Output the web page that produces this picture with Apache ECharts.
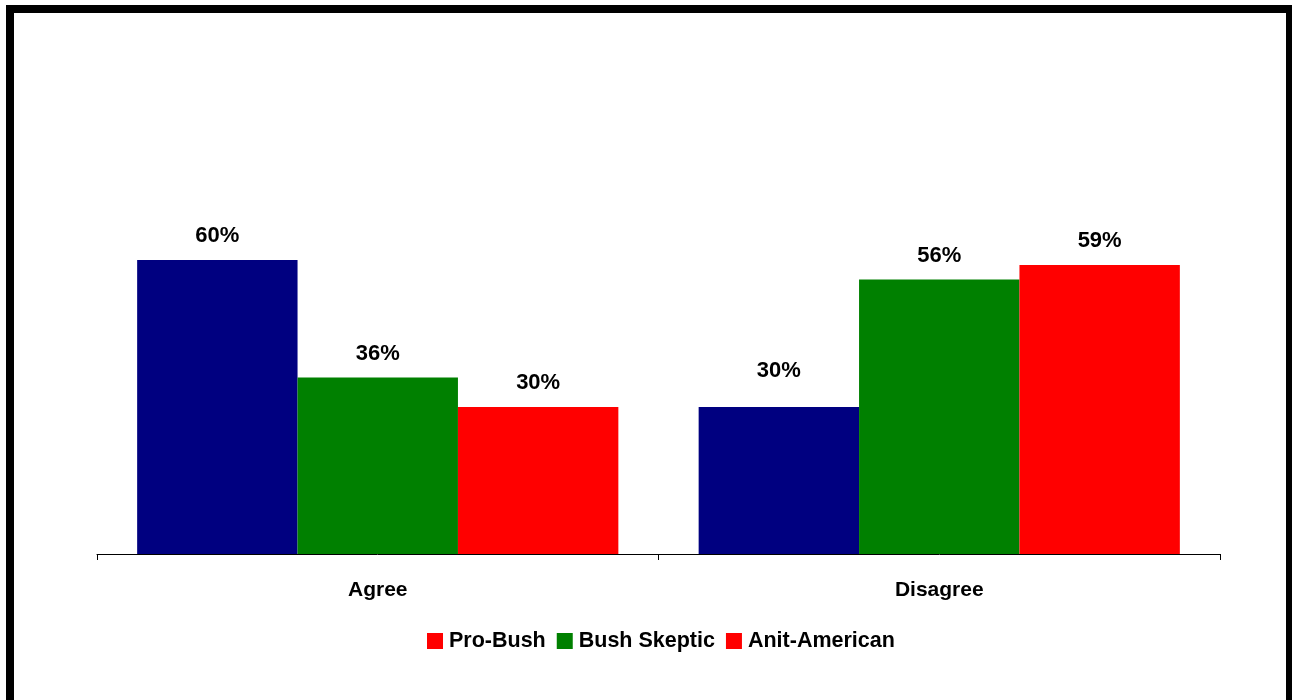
<!DOCTYPE html>
<html>
<head>
<meta charset="utf-8">
<script src="https://cdn.jsdelivr.net/npm/echarts@6/dist/echarts.min.js"></script>
<style>
html,body{margin:0;padding:0;background:#fff;}
#chart{width:1292px;height:700px;}
</style>
</head>
<body>
<div id="chart"></div>
<script>
const categories = ['Agree', 'Disagree'];
const seriesNames = ['Pro-Bush', 'Bush Skeptic', 'Anit-American'];
const proBush = [60, 30];
const bushSkeptic = [36, 56];
const anitAmerican = [30, 59];

const barColors = ['#000080', '#008000', '#FF0000'];
const legendColors = ['#FF0000', '#008000', '#FF0000'];
const FONT = '"Liberation Sans", Arial, sans-serif';

const chart = echarts.init(document.getElementById('chart'));

function makeSeries(name, values, color, idx) {
  return {
    name: name,
    type: 'bar',
    barGap: '0%',
    barCategoryGap: '14.3%',
    itemStyle: { color: color },
    label: {
      show: true,
      position: 'top',
      distance: 13,
      formatter: '{c}%',
      color: '#000',
      fontFamily: FONT,
      fontWeight: 'bold',
      fontSize: 22
    },
    data: values.map(function (v, i) {
      if (idx === 0 && i === 1) {
        return { value: v, label: { distance: 25 } };
      }
      return v;
    })
  };
}

chart.setOption({
  animation: false,
  backgroundColor: '#fff',
  graphic: [{
    type: 'rect',
    shape: { x: 10, y: 9, width: 1280, height: 720 },
    style: { fill: 'none', stroke: '#000', lineWidth: 8 },
    silent: true
  }],
  legend: {
    left: 422,
    top: 625,
    itemWidth: 16,
    itemHeight: 16,
    itemGap: 11,
    icon: 'rect',
    textStyle: { fontFamily: FONT, fontWeight: 'bold', fontSize: 21.5, color: '#000', padding: [0, 0, 0, 1] },
    data: seriesNames.map(function (n, i) {
      return { name: n, itemStyle: { color: legendColors[i] } };
    })
  },
  grid: { left: 97, right: 72, top: 211, bottom: 146, containLabel: false },
  xAxis: {
    type: 'category',
    data: categories,
    axisLine: { lineStyle: { color: '#000', width: 1 } },
    axisTick: { show: true, length: 6, lineStyle: { color: '#000' } },
    axisLabel: { margin: 26, fontFamily: FONT, fontWeight: 'bold', fontSize: 21, color: '#000' }
  },
  yAxis: {
    type: 'value',
    min: 0,
    max: 70,
    show: false,
    splitLine: { show: false }
  },
  series: [
    makeSeries(seriesNames[0], proBush, barColors[0], 0),
    makeSeries(seriesNames[1], bushSkeptic, barColors[1], 1),
    makeSeries(seriesNames[2], anitAmerican, barColors[2], 2)
  ]
});
</script>
</body>
</html>
